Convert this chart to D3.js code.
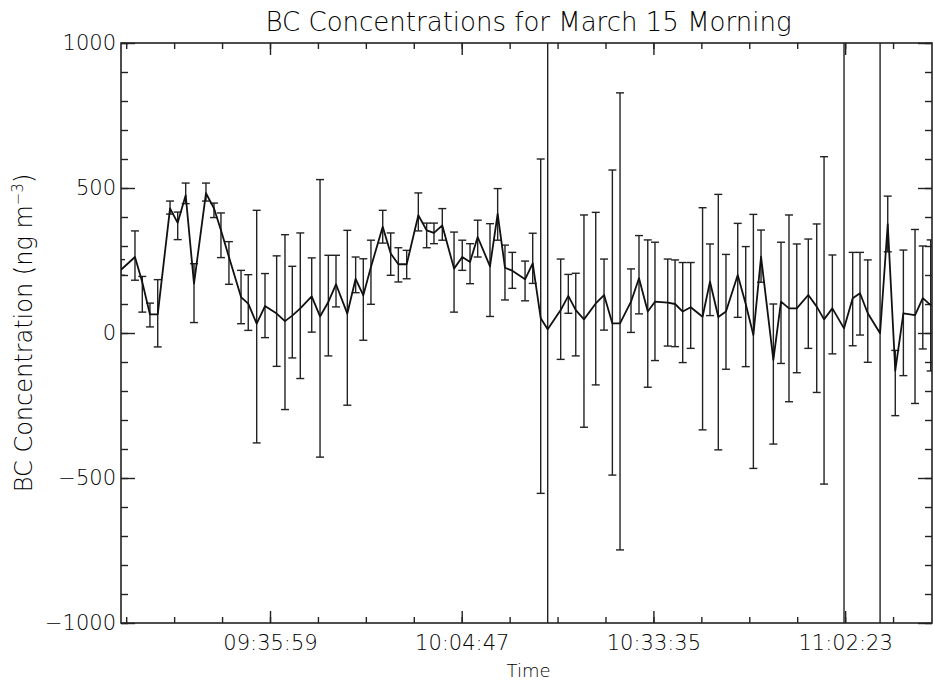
<!DOCTYPE html>
<html>
<head>
<meta charset="utf-8">
<script src="https://cdn.jsdelivr.net/npm/d3@7"></script>
<style>
  body { margin: 0; background: #fff; }
  svg { display: block; }
  text { font-family: "DejaVu Sans", sans-serif; font-weight: 300; fill: #000; }
</style>
</head>
<body>
<svg id="chart" width="933" height="686"></svg>
<script>
// sample times (HH:MM:SS)
var sampleTimes = [
  "09:13:36", "09:15:42", "09:16:48", "09:17:57", "09:19:07", "09:20:58", "09:22:07", "09:23:19",
  "09:24:34", "09:26:22", "09:27:34", "09:28:37", "09:29:49", "09:31:38", "09:32:43", "09:33:59",
  "09:35:14", "09:36:59", "09:38:14", "09:39:20", "09:40:32", "09:42:15", "09:43:30", "09:44:45",
  "09:45:54", "09:47:36", "09:48:51", "09:50:00", "09:51:09", "09:52:55", "09:54:07", "09:55:16",
  "09:56:31", "09:58:16", "09:59:31", "10:00:37", "10:01:52", "10:03:38", "10:04:52", "10:06:02",
  "10:07:11", "10:09:02", "10:10:11", "10:11:17", "10:12:23", "10:14:18", "10:15:27", "10:16:39",
  "10:17:42", "10:19:39", "10:20:48", "10:21:55", "10:23:09", "10:24:55", "10:26:10", "10:27:25",
  "10:28:34", "10:30:13", "10:31:25", "10:32:44", "10:33:49", "10:35:44", "10:36:50", "10:37:59",
  "10:39:11", "10:40:58", "10:42:05", "10:43:20", "10:44:29", "10:46:15", "10:47:27", "10:48:36",
  "10:49:45", "10:51:36", "10:52:45", "10:53:57", "10:55:07", "10:56:51", "10:58:07", "10:59:13",
  "11:00:28", "11:02:13", "11:03:31", "11:04:37", "11:05:47", "11:07:38", "11:08:47", "11:09:55",
  "11:11:08", "11:12:53", "11:14:03", "11:15:14"
];

// BC concentration (ng m-3)
var bcValues = [
  218, 262, 175, 64, 64, 430, 380, 475, 170, 482, 430, 354, 262, 124, 101, 32,
  93, 67, 41, 60, 85, 126, 57, 107, 168, 67, 187, 130, 228, 366, 274, 237,
  237, 406, 354, 345, 371, 222, 262, 245, 331, 230, 411, 225, 215, 185, 240, 51,
  13, 79, 128, 79, 47, 102, 131, 33, 33, 108, 189, 74, 108, 105, 100, 74,
  89, 56, 177, 55, 74, 200, 100, -7, 263, -93, 108, 85, 85, 131, 91, 47,
  85, 16, 120, 137, 68, -1, 375, -130, 68, 62, 120, 96
];

// top of each error bar
var bcUpper = [
  253, 352, 195, 103, 184, 455, 417, 517, 239, 517, 448, 414, 315, 216, 201, 423,
  205, 266, 339, 230, 345, 259, 529, 268, 268, 354, 262, 256, 320, 423, 345, 294,
  285, 483, 379, 379, 429, 348, 320, 308, 389, 377, 498, 303, 278, 248, 344, 600,
  1500, 255, 202, 206, 407, 416, 255, 562, 828, 221, 336, 321, 313, 255, 252, 243,
  243, 432, 307, 478, 271, 378, 298, 409, 355, 100, 313, 407, 307, 324, 376, 608,
  269, 1500, 278, 278, 252, 1500, 472, -60, 286, 357, 300, 321
];

// bottom of each error bar
var bcLower = [
  199, 182, 72, 21, -48, 410, 322, 446, 36, 455, 398, 260, 168, 32, 9, -379,
  -16, -115, -264, -86, -157, 3, -428, -79, 90, -249, 139, -25, 99, 310, 199, 176,
  187, 352, 294, 308, 320, 72, 216, 170, 262, 57, 320, 114, 154, 111, 171, -553,
  -1500, -91, 68, -79, -325, -179, 10, -490, -748, 2, 66, -187, -95, -45, -47, -102,
  -53, -334, 60, -403, -125, 54, -116, -467, 175, -383, -105, -237, -137, -53, -205, -521,
  -72, -1500, -44, -7, -101, -1500, 280, -285, -147, -243, -55, -131
];

var timeLabels = ["09:35:59", "10:04:47", "10:33:35", "11:02:23"];
var timeRange = ["09:13:36", "11:15:26"];
var yLabels = [-1000, -500, 0, 500, 1000];

var svg = d3.select("#chart"),
    plotL = 121, plotR = 932, plotT = 43, plotB = 623,
    parseTime = d3.timeParse("%H:%M:%S"),
    fmtTime = d3.timeFormat("%H:%M:%S");

var x = d3.scaleTime()
    .domain(timeRange.map(parseTime))
    .range([plotL, plotR]);
var y = d3.scaleLinear()
    .domain([-1000, 1000])
    .range([plotB, plotT]);

// minor ticks every 7:12, majors every 28:48
var majorTicks = timeLabels.map(parseTime);
var minorTicks = d3.range(-4, 16)
    .map(function (i) { return d3.timeSecond.offset(majorTicks[0], i * 432); })
    .filter(function (d) { return d >= x.domain()[0] && d <= x.domain()[1]; });
var yMinor = d3.range(-1000, 1001, 100);

var data = sampleTimes.map(function (t, i) {
  return { t: parseTime(t), v: bcValues[i], hi: bcUpper[i], lo: bcLower[i] };
});

svg.append("defs").append("clipPath").attr("id", "plotClip")
  .append("rect")
  .attr("x", plotL).attr("y", plotT)
  .attr("width", plotR - plotL).attr("height", plotB - plotT);

function styleAxis(g) {
  g.select(".domain").remove();
  g.selectAll("line").attr("stroke", "#222").attr("stroke-width", 1.4);
  g.selectAll("text").attr("fill", "#000").style("font-family", "DejaVu Sans, sans-serif");
}

// bottom axis with labels
svg.append("g").attr("transform", "translate(0," + plotB + ")")
  .call(d3.axisBottom(x).tickValues(majorTicks).tickFormat(fmtTime)
    .tickSizeInner(-12).tickSizeOuter(0).tickPadding(12))
  .call(styleAxis)
  .selectAll("text").style("font-size", "21px");
svg.append("g").attr("transform", "translate(0," + plotB + ")")
  .call(d3.axisBottom(x).tickValues(minorTicks).tickFormat("")
    .tickSizeInner(-6).tickSizeOuter(0))
  .call(styleAxis);

// top axis, ticks only
svg.append("g").attr("transform", "translate(0," + plotT + ")")
  .call(d3.axisTop(x).tickValues(majorTicks).tickFormat("").tickSizeInner(-12).tickSizeOuter(0))
  .call(styleAxis);
svg.append("g").attr("transform", "translate(0," + plotT + ")")
  .call(d3.axisTop(x).tickValues(minorTicks).tickFormat("").tickSizeInner(-6).tickSizeOuter(0))
  .call(styleAxis);

// left axis with labels
svg.append("g").attr("transform", "translate(" + plotL + ",0)")
  .call(d3.axisLeft(y).tickValues(yLabels).tickFormat(function (d) { return d < 0 ? "\u2212" + (-d) : d; })
    .tickSizeInner(-14).tickSizeOuter(0).tickPadding(5))
  .call(styleAxis)
  .selectAll("text").style("font-size", "21px");
svg.append("g").attr("transform", "translate(" + plotL + ",0)")
  .call(d3.axisLeft(y).tickValues(yMinor).tickFormat("").tickSizeInner(-7).tickSizeOuter(0))
  .call(styleAxis);

// right axis, ticks only
svg.append("g").attr("transform", "translate(" + plotR + ",0)")
  .call(d3.axisRight(y).tickValues(yLabels).tickFormat("").tickSizeInner(-14).tickSizeOuter(0))
  .call(styleAxis);
svg.append("g").attr("transform", "translate(" + plotR + ",0)")
  .call(d3.axisRight(y).tickValues(yMinor).tickFormat("").tickSizeInner(-7).tickSizeOuter(0))
  .call(styleAxis);

// frame
svg.append("rect")
  .attr("x", plotL).attr("y", plotT)
  .attr("width", plotR - plotL).attr("height", plotB - plotT)
  .attr("fill", "none").attr("stroke", "#222").attr("stroke-width", 1.6);

var plot = svg.append("g").attr("clip-path", "url(#plotClip)");

// error bars
var bars = plot.selectAll("g.err").data(data).enter().append("g").attr("class", "err")
  .attr("stroke", "#222").attr("stroke-width", 1.4);
bars.append("line")
  .attr("x1", function (d) { return x(d.t); }).attr("x2", function (d) { return x(d.t); })
  .attr("y1", function (d) { return y(d.hi); }).attr("y2", function (d) { return y(d.lo); });
bars.append("line")
  .attr("x1", function (d) { return x(d.t) - 4; }).attr("x2", function (d) { return x(d.t) + 4; })
  .attr("y1", function (d) { return y(d.hi); }).attr("y2", function (d) { return y(d.hi); });
bars.append("line")
  .attr("x1", function (d) { return x(d.t) - 4; }).attr("x2", function (d) { return x(d.t) + 4; })
  .attr("y1", function (d) { return y(d.lo); }).attr("y2", function (d) { return y(d.lo); });

// concentration line
plot.append("path")
  .datum(data)
  .attr("fill", "none").attr("stroke", "#111").attr("stroke-width", 1.8)
  .attr("stroke-linejoin", "round")
  .attr("d", d3.line().x(function (d) { return x(d.t); }).y(function (d) { return y(d.v); }));

// titles
svg.append("text")
  .attr("x", (plotL + plotR) / 2 + 2).attr("y", 31)
  .attr("text-anchor", "middle").style("font-size", "26px")
  .text("BC Concentrations for March 15 Morning");

svg.append("text")
  .attr("x", (plotL + plotR) / 2 + 2).attr("y", 677)
  .attr("text-anchor", "middle").style("font-size", "18px")
  .text("Time");

var yt = svg.append("text")
  .attr("transform", "translate(32,333) rotate(-90)")
  .attr("text-anchor", "middle").style("font-size", "24px");
yt.append("tspan").text("BC Concentration (ng m");
yt.append("tspan").attr("dy", -9).style("font-size", "15px").text("\u22123");
yt.append("tspan").attr("dy", 9).text(")");
</script>
</body>
</html>
